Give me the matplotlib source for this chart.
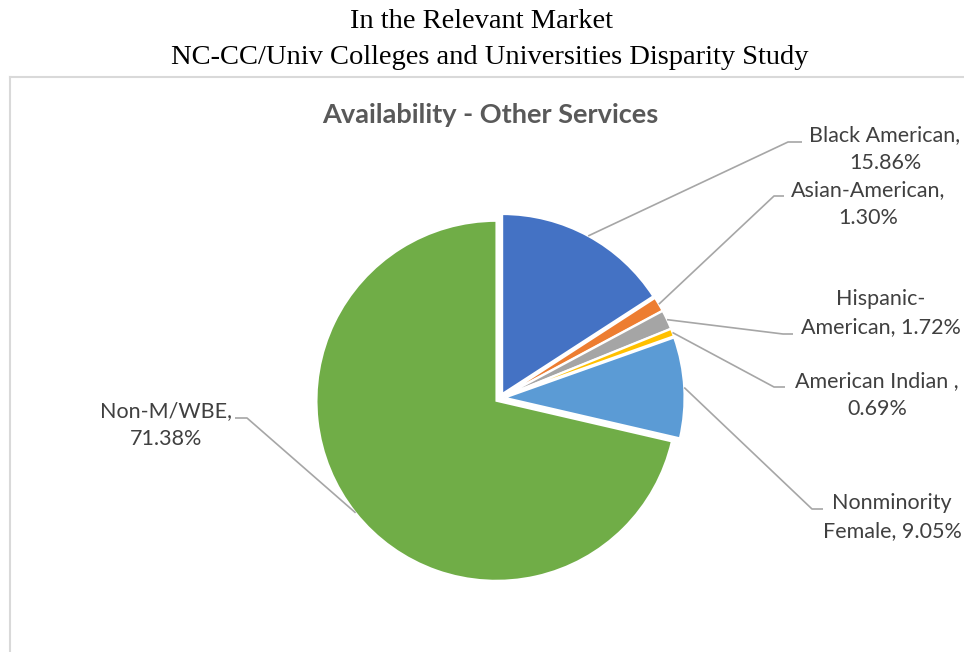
import matplotlib
matplotlib.use("Agg")
import matplotlib.pyplot as plt
import numpy as np

categories = ["Black American", "Asian-American", "Hispanic-American",
              "American Indian", "Nonminority Female", "Non-M/WBE"]
values = [15.86, 1.30, 1.72, 0.69, 9.05, 71.38]
label_texts = ["Black American,\n15.86%", "Asian-American,\n1.30%",
               "Hispanic-\nAmerican, 1.72%", "American Indian ,\n0.69%",
               "Nonminority\nFemale, 9.05%", "Non-M/WBE,\n71.38%"]
colors = ["#4472C4", "#ED7D31", "#A5A5A5", "#FFC000", "#5B9BD5", "#70AD47"]

W, H = 964, 652
CX, CY, R = 500, 398, 180

def px(x, y):
    return ((x - CX) / R, (CY - y) / R)

fig = plt.figure(figsize=(W / 100, H / 100), dpi=100)
ax = fig.add_axes([0, 0, 1, 1])

explode = [0.025] * len(values)
wedges, _ = ax.pie(values, colors=colors, startangle=90, counterclock=False,
                   explode=explode, radius=1.0,
                   wedgeprops=dict(edgecolor="white", linewidth=1.5))
ax.set_xlim(-CX / R, (W - CX) / R)
ax.set_ylim(-(H - CY) / R, CY / R)
ax.set_aspect("equal")
ax.axis("off")

# Chart area border (top and left edges)
fig.add_artist(plt.Line2D([10 / W, 1], [1 - 77 / H, 1 - 77 / H], color="#d9d9d9", lw=1.5))
fig.add_artist(plt.Line2D([10 / W, 10 / W], [0, 1 - 77 / H], color="#d9d9d9", lw=1.5))

# Titles
fig.text(481 / W, 1 - 21 / H, "In the Relevant Market", ha="center", va="center",
         family="Liberation Serif", fontsize=20.5, color="black")
fig.text(490 / W, 1 - 57 / H, "NC-CC/Univ Colleges and Universities Disparity Study",
         ha="center", va="center", family="Liberation Serif", fontsize=20.5, color="black")
fig.text(490 / W, 1 - 115 / H, "Availability - Other Services", ha="center", va="center",
         family="Lato", fontsize=19.5, fontweight="bold", color="#595959")

# Label layout: elbow point, horizontal end point, text center (pixels)
elbows = [(788, 142), (774, 196), (783, 334), (774, 387), (812, 509), (247, 418)]
ends = [(802, 142), (784, 196), (793, 334), (785, 387), (823, 509), (235, 418)]
text_pos = [(885, 149), (868, 204), (881, 313), (877, 395), (892, 517), (166, 425)]

for w, lab, el, en, tp in zip(wedges, label_texts, elbows, ends, text_pos):
    thm = np.deg2rad((w.theta1 + w.theta2) / 2)
    cx, cy = w.center
    sx, sy = cx + w.r * np.cos(thm), cy + w.r * np.sin(thm)
    ex, ey = px(*el)
    nx, ny = px(*en)
    ax.plot([sx, ex, nx], [sy, ey, ny], color="#a6a6a6", lw=1.2, solid_capstyle="butt")
    tx, ty = px(*tp)
    ax.text(tx, ty, lab, ha="center", va="center", family="Lato", fontsize=15.5,
            color="#404040", linespacing=1.55)

fig.savefig("out.png", dpi=100, facecolor="white")
